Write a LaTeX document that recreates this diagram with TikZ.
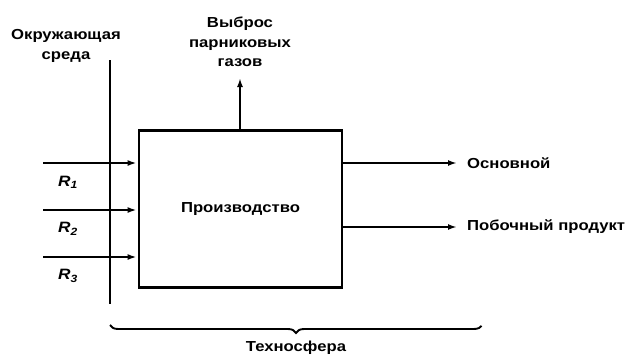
\documentclass[tikz,border=0pt]{standalone}
\usepackage{fontspec}
\setmainfont{Liberation Sans}[FakeStretch=1.15]
\usetikzlibrary{arrows.meta,decorations.pathreplacing}
\begin{document}
\begin{tikzpicture}[x=1pt,y=-1pt,shorten >=1pt,>={Latex[length=9pt,width=6pt]}]
        \tikzstyle{txt}=[font=\bfseries\fontsize{14.5}{19.5}\selectfont,align=center,inner sep=0pt]
        \tikzstyle{rlabel}=[font=\bfseries\itshape\fontsize{15}{16}\selectfont,inner sep=0pt]
        \tikzstyle{box}=[draw,line width=2.8pt,minimum width=203pt,minimum height=157pt,inner sep=0pt]
        \tikzstyle{flow}=[draw,line width=1.8pt,->]
        \tikzstyle{bigflow}=[draw,line width=2.8pt,->]
        \useasboundingbox (0,0) rectangle (625,356);
       \begin{scope}
         % production box and environment boundary
         \node [box,txt] (prod) at (240.5,209) {Производство};
         \coordinate (envtop) at (110,60);
         \coordinate (envbot) at (110,305);
         \draw [line width=2.8pt] (envtop) -- (envbot);
         \node [txt] (env) at (66,46) {Окружающая\\среда};
         % inputs
         \coordinate (in1) at (43,163);
         \coordinate (in2) at (43,210);
         \coordinate (in3) at (43,257);
         \path[flow] (in1) -- (prod.west |- in1);
         \path[bigflow] (in2) -- (prod.west |- in2);
         \path[flow] (in3) -- (prod.west |- in3);
         \node [rlabel] (r1) at (68,182) {R\textsubscript{1}};
         \node [rlabel] (r2) at (68,229) {R\textsubscript{2}};
         \node [rlabel] (r3) at (68,276) {R\textsubscript{3}};
         % outputs
         \node [txt,anchor=west] (main) at (467,163) {Основной};
         \node [txt,anchor=west] (side) at (467,227) {Побочный продукт};
         \path[flow] (prod.east |- main.west) -- ([xshift=-9pt]main.west);
         \path[bigflow] (prod.east |- side.west) -- ([xshift=-9pt]side.west);
         % emissions
         \node [txt] (gas) at (240,42) {Выброс\\парниковых\\газов};
         \coordinate (gastip) at (240,77);
         \path[bigflow] (prod.north -| gas) -- (gastip);
         % technosphere
         \coordinate (brl) at (110,325);
         \coordinate (brr) at (482,325);
         \draw [line width=1.9pt,decorate,decoration={brace,mirror,amplitude=8pt}] (brl) -- (brr);
         \node [txt] (tech) at (296,348) {Техносфера};
        \end{scope}
      \end{tikzpicture}
\end{document}
